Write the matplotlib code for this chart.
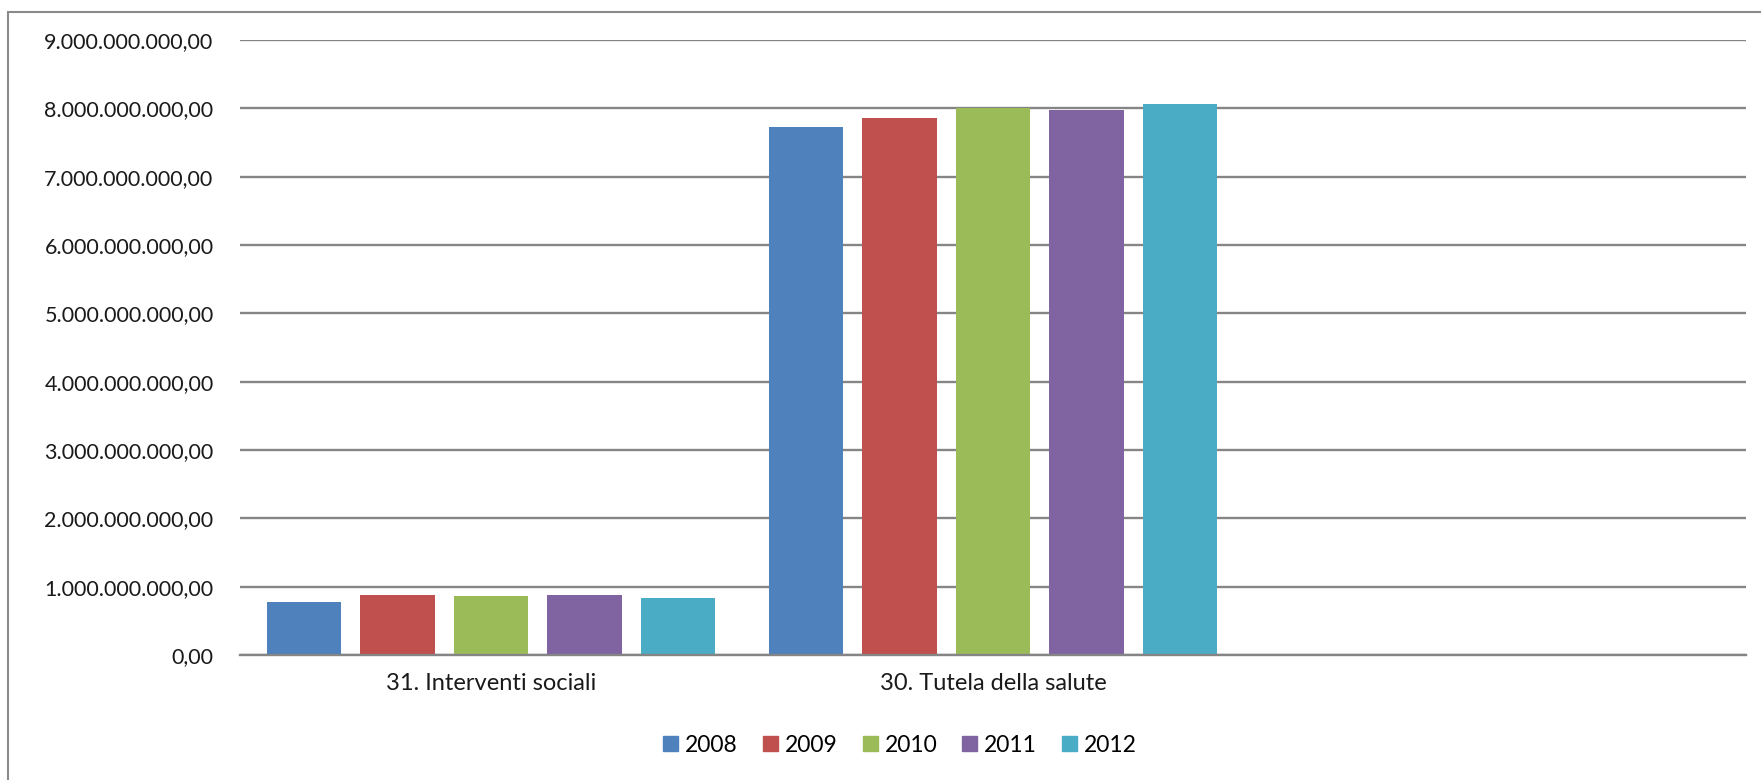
import matplotlib.pyplot as plt
import matplotlib.patches as mpatches
import numpy as np

# Spesa per missione, anni 2008-2012
categorie = ["31. Interventi sociali", "30. Tutela della salute", ""]
anni = ["2008", "2009", "2010", "2011", "2012"]
interventi_sociali = [0.77e9, 0.88e9, 0.86e9, 0.88e9, 0.83e9]
tutela_salute = [7.72e9, 7.86e9, 8.01e9, 7.97e9, 8.06e9]
colori = ["#4F81BD", "#C0504D", "#9BBB59", "#8064A2", "#4BACC6"]
tick_valori = np.arange(0, 9.5e9, 1e9)


def formato_it(v):
    # 1234567,5 -> "1.234.567,50"
    s = f"{v:,.2f}"
    return s.replace(",", "X").replace(".", ",").replace("X", ".")


plt.rcParams['font.family'] = ['Lato', 'DejaVu Sans']

fig = plt.figure(figsize=(17.61, 7.8), dpi=100)
ax = fig.add_axes([240 / 1761, 1 - 655 / 780, (1746 - 240) / 1761, (655 - 40) / 780])

x = np.arange(len(categorie))
passo = 0.186
larghezza = 0.148
for i, anno in enumerate(anni):
    valori = [interventi_sociali[i], tutela_salute[i], 0]
    ax.bar(x + (i - 2) * passo, valori, width=larghezza,
           color=colori[i], label=anno)

ax.set_xlim(-0.5, 2.5)
ax.set_ylim(0, 9e9)
ax.set_yticks(tick_valori)
ax.set_yticklabels([formato_it(v) for v in tick_valori], fontsize=15.5)
ax.set_xticks(x)
ax.set_xticklabels(categorie, fontsize=17)
ax.tick_params(axis='both', length=0, colors='#1a1a1a')
ax.tick_params(axis='y', pad=19)
ax.tick_params(axis='x', pad=13)
ax.grid(axis='y', color='#858585', linewidth=1.7)
ax.set_axisbelow(True)
for lato in ["top", "right", "left"]:
    ax.spines[lato].set_visible(False)
ax.spines["bottom"].set_color('#858585')
ax.spines["bottom"].set_linewidth(1.7)

# cornice dell'area del grafico
cornice = mpatches.Rectangle((8 / 1761, -0.1), 1.2, 1 - 12 / 780 + 0.1,
                             transform=fig.transFigure, fill=False,
                             edgecolor='#8a8a8a', linewidth=1.5)
fig.patches.append(cornice)

handles = [mpatches.Patch(color=c) for c in colori]
fig.legend(handles, anni, loc='center', bbox_to_anchor=(900 / 1761, 1 - 745 / 780),
           ncol=5, frameon=False, fontsize=16.5, handlelength=0.65,
           handleheight=0.65, handletextpad=0.3, columnspacing=1.1)

fig.savefig("out.png", dpi=100, facecolor='white')
